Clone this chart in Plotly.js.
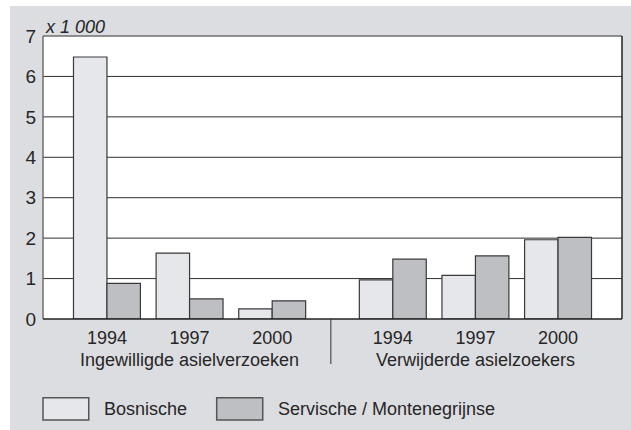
<!DOCTYPE html>
<html>
<head>
<meta charset="utf-8">
<script src="https://cdn.plot.ly/plotly-3.0.1.min.js"></script>
<style>
html,body{margin:0;padding:0;background:#fff;}
#wrap{position:relative;width:631px;height:430px;background:#fff;overflow:hidden;}
#chart{position:absolute;left:10px;top:6px;width:621px;height:424px;}
</style>
</head>
<body>
<div id="wrap"><div id="chart"></div></div>
<script>
// Data
const yearLabels = ["1994", "1997", "2000", "1994", "1997", "2000"];
const xPositions = [0, 1, 2, 3.46, 4.46, 5.46];
const groupLabels = ["Ingewilligde asielverzoeken", "Verwijderde asielzoekers"];
const seriesNames = ["Bosnische", "Servische / Montenegrijnse"];
const bosnische = [6.48, 1.63, 0.25, 0.97, 1.08, 1.96];
const servische = [0.88, 0.50, 0.45, 1.48, 1.56, 2.02];
const unitLabel = "x 1 000";

const colBos = "#e6e7eb";
const colSer = "#bebfc3";
const outline = "#3a3a3a";
const FONT = "Liberation Sans, Arial, sans-serif";
const FS = 18;
const TXT = "#262626";

const traces = [
  {type: "bar", name: seriesNames[0], x: xPositions, y: bosnische,
   marker: {color: colBos, line: {color: outline, width: 1.2}}, showlegend: false, hoverinfo: "skip"},
  {type: "bar", name: seriesNames[1], x: xPositions, y: servische,
   marker: {color: colSer, line: {color: outline, width: 1.2}}, showlegend: false, hoverinfo: "skip"}
];

const gridY = [1, 2, 3, 4, 5, 6];
const shapes = [];
gridY.forEach(v => shapes.push({type: "line", xref: "paper", yref: "y", x0: 0, x1: 1, y0: v, y1: v,
  line: {color: "#2e2e2e", width: 1}, layer: "below"}));
// frame
shapes.push({type: "line", xref: "paper", yref: "paper", x0: 0, x1: 1, y0: 1, y1: 1, line: {color: "#6e6e6e", width: 1.5}});
shapes.push({type: "line", xref: "paper", yref: "paper", x0: 0, x1: 0, y0: 0, y1: 1, line: {color: "#6e6e6e", width: 1.5}});
shapes.push({type: "line", xref: "paper", yref: "paper", x0: 1, x1: 1, y0: 0, y1: 1, line: {color: "#222", width: 1.5}});
shapes.push({type: "line", xref: "paper", yref: "paper", x0: 0, x1: 1, y0: 0, y1: 0, line: {color: "#222", width: 1.5}});
// divider between groups
shapes.push({type: "line", xref: "x", yref: "paper", x0: 2.71, x1: 2.71, y0: 0, y1: -0.159, line: {color: "#333", width: 1}});
// legend boxes
shapes.push({type: "rect", xref: "paper", yref: "paper", x0: 0.0, x1: 0.079, y0: -0.278, y1: -0.357,
  fillcolor: colBos, line: {color: "#555", width: 1.5}});
shapes.push({type: "rect", xref: "paper", yref: "paper", x0: 0.300, x1: 0.3795, y0: -0.278, y1: -0.357,
  fillcolor: colSer, line: {color: "#555", width: 1.5}});

const annotations = [
  {xref: "paper", yref: "paper", x: 0, y: 1, xanchor: "left", yanchor: "bottom", yshift: -3, showarrow: false,
   text: "<i>" + unitLabel + "</i>", font: {family: FONT, size: FS, color: TXT}},
  {xref: "x", yref: "paper", x: xPositions[1], y: -0.145, yanchor: "middle", showarrow: false,
   text: groupLabels[0], font: {family: FONT, size: FS, color: TXT}},
  {xref: "x", yref: "paper", x: xPositions[4], y: -0.145, yanchor: "middle", showarrow: false,
   text: groupLabels[1], font: {family: FONT, size: FS, color: TXT}},
  {xref: "paper", yref: "paper", x: 0.1014, y: -0.318, xanchor: "left", yanchor: "middle", showarrow: false,
   text: seriesNames[0], font: {family: FONT, size: FS, color: TXT}},
  {xref: "paper", yref: "paper", x: 0.402, y: -0.318, xanchor: "left", yanchor: "middle", showarrow: false,
   text: seriesNames[1], font: {family: FONT, size: FS, color: TXT}}
];

const layout = {
  width: 621, height: 424,
  margin: {l: 33, r: 9, t: 30, b: 111},
  paper_bgcolor: "#dcdde1",
  plot_bgcolor: "#ffffff",
  barmode: "group",
  bargap: 0.19,
  bargroupgap: 0,
  font: {family: FONT, size: FS, color: TXT},
  xaxis: {range: [-0.774, 6.234], tickvals: xPositions, ticktext: yearLabels, showgrid: false,
    zeroline: false, showline: false, ticks: "outside", ticklen: 2, tickcolor: "rgba(0,0,0,0)",
    tickfont: {family: FONT, size: FS, color: TXT}, fixedrange: true},
  yaxis: {range: [0, 7], dtick: 1, tick0: 0, showgrid: false, zeroline: false, showline: false,
    ticks: "outside", ticklen: 2, tickcolor: "rgba(0,0,0,0)",
    tickfont: {family: FONT, size: 19, color: TXT}, fixedrange: true},
  shapes: shapes,
  annotations: annotations
};

Plotly.newPlot("chart", traces, layout, {displayModeBar: false, staticPlot: true});
</script>
</body>
</html>
